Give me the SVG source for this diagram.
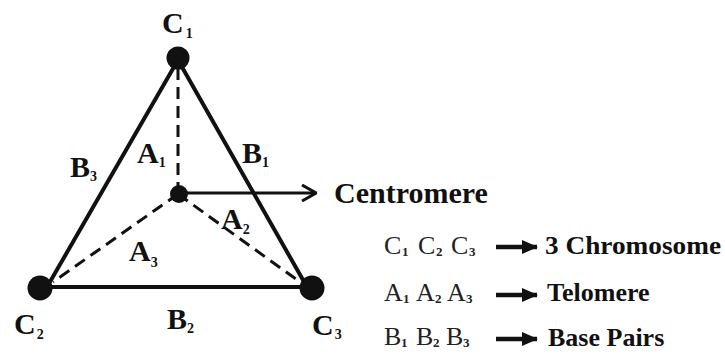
<svg xmlns="http://www.w3.org/2000/svg" width="725" height="356" viewBox="0 0 725 356">
<style>
.lbl{font-family:"Liberation Serif","Times New Roman",serif;font-weight:bold;font-size:30px;fill:#111}
.sub{font-size:14px;font-weight:bold}
.leg{font-family:"Liberation Serif","Times New Roman",serif;font-size:26px;fill:#222}
.lsub{font-size:13px;font-weight:bold}
.txt{font-family:"Liberation Serif","Times New Roman",serif;font-weight:bold;font-size:26px;fill:#111}
.solid{stroke:#111;stroke-width:4;fill:none;stroke-linecap:round}
.dash{stroke:#111;stroke-width:3;fill:none;stroke-dasharray:12 7}
.dot{fill:#111}
</style>
<defs>
<marker id="open" viewBox="0 0 16 18" refX="15" refY="9" markerWidth="16" markerHeight="18" markerUnits="userSpaceOnUse" orient="auto">
<path d="M1 1 L15 9 L1 17" fill="none" stroke="#111" stroke-width="3"/>
</marker>
<marker id="solidhead" viewBox="0 0 16 14" refX="15" refY="7" markerWidth="16" markerHeight="14" markerUnits="userSpaceOnUse" orient="auto">
<path d="M0 0 L16 7 L0 14 Z" fill="#111"/>
</marker>
</defs>
<rect width="725" height="356" fill="#fff"/>
<g id="connectors">
<line class="solid" x1="178" y1="60" x2="47" y2="287"/>
<line class="solid" x1="178" y1="60" x2="307" y2="287"/>
<line class="solid" x1="47" y1="287" x2="307" y2="287"/>
<line class="dash" x1="178" y1="194" x2="178" y2="68"/>
<line class="dash" x1="178" y1="194" x2="53" y2="282"/>
<line class="dash" x1="178" y1="194" x2="300" y2="282"/>
<line x1="186" y1="193" x2="316" y2="193" stroke="#111" stroke-width="3" marker-end="url(#open)"/>
</g>
<g id="C1"><circle class="dot" cx="178" cy="58" r="11.5"/><text class="lbl" x="162" y="33">C<tspan class="sub" dx="2" dy="5">1</tspan></text></g>
<g id="C2"><circle class="dot" cx="40" cy="288" r="12.5"/><text class="lbl" x="14" y="334">C<tspan class="sub" dx="1" dy="5">2</tspan></text></g>
<g id="C3"><circle class="dot" cx="312" cy="288" r="12.5"/><text class="lbl" x="312" y="335">C<tspan class="sub" dx="1" dy="4">3</tspan></text></g>
<g id="centromere"><circle class="dot" cx="179" cy="194" r="9"/><text class="lbl" x="334" y="203">Centromere</text></g>
<g id="edge-labels">
<text class="lbl" x="70" y="177">B<tspan class="sub" dx="0" dy="4">3</tspan></text>
<text class="lbl" x="137" y="163">A<tspan class="sub" dx="0" dy="4">1</tspan></text>
<text class="lbl" x="242" y="163">B<tspan class="sub" dx="0" dy="4">1</tspan></text>
<text class="lbl" x="221" y="229">A<tspan class="sub" dx="0" dy="5">2</tspan></text>
<text class="lbl" x="129" y="261">A<tspan class="sub" dx="0" dy="6">3</tspan></text>
<text class="lbl" x="167" y="329">B<tspan class="sub" dx="0" dy="4">2</tspan></text>
</g>
<g id="legend">
<text class="leg" y="254"><tspan x="384">C</tspan><tspan class="lsub" x="402" dy="2">1</tspan><tspan x="418" dy="-2">C</tspan><tspan class="lsub" x="436" dy="2">2</tspan><tspan x="451" dy="-2">C</tspan><tspan class="lsub" x="469" dy="2">3</tspan></text>
<text class="leg" y="301"><tspan x="384">A</tspan><tspan class="lsub" x="403" dy="2">1</tspan><tspan x="416" dy="-2">A</tspan><tspan class="lsub" x="435" dy="2">2</tspan><tspan x="447" dy="-2">A</tspan><tspan class="lsub" x="466" dy="2">3</tspan></text>
<text class="leg" y="345"><tspan x="384">B</tspan><tspan class="lsub" x="401" dy="2">1</tspan><tspan x="416" dy="-2">B</tspan><tspan class="lsub" x="433" dy="2">2</tspan><tspan x="446" dy="-2">B</tspan><tspan class="lsub" x="463" dy="2">3</tspan></text>
<line x1="496" y1="247" x2="537" y2="247" stroke="#111" stroke-width="4.5" marker-end="url(#solidhead)"/>
<line x1="496" y1="295" x2="537" y2="295" stroke="#111" stroke-width="4.5" marker-end="url(#solidhead)"/>
<line x1="496" y1="339" x2="537" y2="339" stroke="#111" stroke-width="4.5" marker-end="url(#solidhead)"/>
<text class="txt" x="545" y="254" textLength="176" lengthAdjust="spacingAndGlyphs">3 Chromosome</text>
<text class="txt" x="547" y="301">Telomere</text>
<text class="txt" x="548" y="346">Base Pairs</text>
</g>
</svg>
